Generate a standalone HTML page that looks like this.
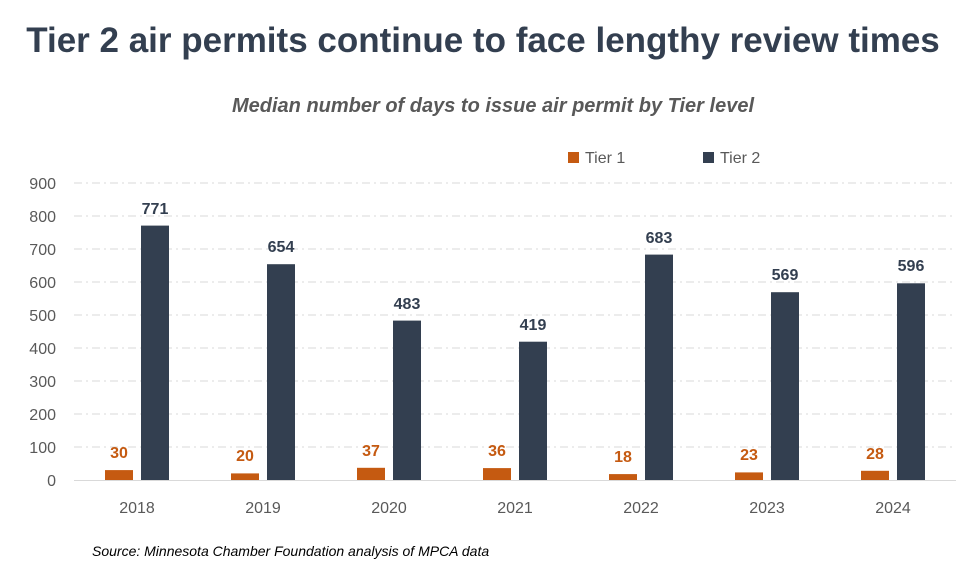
<!DOCTYPE html>
<html><head><meta charset="utf-8"><style>
body{margin:0;background:#fff;}
svg{display:block;font-family:"Liberation Sans",Arial,sans-serif;}
</style></head><body>
<svg width="971" height="577" viewBox="0 0 971 577">
<text x="483" y="52" text-anchor="middle" font-size="35" font-weight="bold" fill="#333F50">Tier 2 air permits continue to face lengthy review times</text>
<text x="493" y="112" text-anchor="middle" font-size="20" font-weight="bold" font-style="italic" fill="#595959">Median number of days to issue air permit by Tier level</text>
<rect x="568" y="152" width="11" height="11" fill="#C55A11"/>
<text x="585" y="163" font-size="16" fill="#595959">Tier 1</text>
<rect x="703" y="152" width="11" height="11" fill="#333F50"/>
<text x="720" y="163" font-size="16" fill="#595959">Tier 2</text>
<g stroke="#D9D9D9" stroke-width="1" stroke-dasharray="8,4,2,4">
<line x1="74" x2="956" y1="183" y2="183"/><line x1="74" x2="956" y1="216" y2="216"/><line x1="74" x2="956" y1="249" y2="249"/><line x1="74" x2="956" y1="282" y2="282"/><line x1="74" x2="956" y1="315" y2="315"/><line x1="74" x2="956" y1="348" y2="348"/><line x1="74" x2="956" y1="381" y2="381"/><line x1="74" x2="956" y1="414" y2="414"/><line x1="74" x2="956" y1="447" y2="447"/>
</g>
<line x1="74" x2="956" y1="480.5" y2="480.5" stroke="#D9D9D9"/>
<g font-size="16" fill="#595959" text-anchor="end">
<text x="56" y="189">900</text><text x="56" y="222">800</text><text x="56" y="255">700</text><text x="56" y="288">600</text><text x="56" y="321">500</text><text x="56" y="354">400</text><text x="56" y="387">300</text><text x="56" y="420">200</text><text x="56" y="453">100</text><text x="56" y="486">0</text>
</g>
<g fill="#C55A11">
<rect x="105" y="470.1" width="28" height="9.9"/>
<rect x="231" y="473.4" width="28" height="6.6"/>
<rect x="357" y="467.8" width="28" height="12.2"/>
<rect x="483" y="468.1" width="28" height="11.9"/>
<rect x="609" y="474.1" width="28" height="5.9"/>
<rect x="735" y="472.4" width="28" height="7.6"/>
<rect x="861" y="470.8" width="28" height="9.2"/>
</g>
<g fill="#333F50">
<rect x="141" y="225.6" width="28" height="254.4"/>
<rect x="267" y="264.2" width="28" height="215.8"/>
<rect x="393" y="320.6" width="28" height="159.4"/>
<rect x="519" y="341.7" width="28" height="138.3"/>
<rect x="645" y="254.6" width="28" height="225.4"/>
<rect x="771" y="292.2" width="28" height="187.8"/>
<rect x="897" y="283.3" width="28" height="196.7"/>
</g>
<g font-size="16" font-weight="bold" fill="#C55A11" text-anchor="middle">
<text x="119" y="458">30</text><text x="245" y="461">20</text><text x="371" y="456">37</text><text x="497" y="456">36</text><text x="623" y="462">18</text><text x="749" y="460">23</text><text x="875" y="459">28</text>
</g>
<g font-size="16" font-weight="bold" fill="#333F50" text-anchor="middle">
<text x="155" y="214">771</text><text x="281" y="252">654</text><text x="407" y="309">483</text><text x="533" y="330">419</text><text x="659" y="243">683</text><text x="785" y="280">569</text><text x="911" y="271">596</text>
</g>
<g font-size="16" fill="#595959" text-anchor="middle">
<text x="137" y="513">2018</text><text x="263" y="513">2019</text><text x="389" y="513">2020</text><text x="515" y="513">2021</text><text x="641" y="513">2022</text><text x="767" y="513">2023</text><text x="893" y="513">2024</text>
</g>
<text x="92" y="556" font-size="14" font-style="italic" fill="#000">Source: Minnesota Chamber Foundation analysis of MPCA data</text>
</svg>
</body></html>
